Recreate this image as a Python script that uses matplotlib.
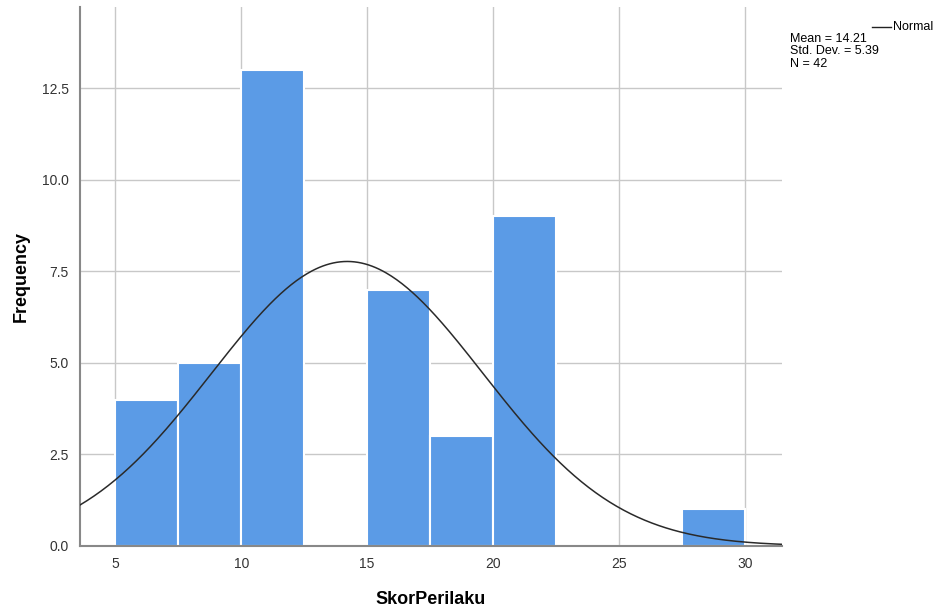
import numpy as np
import matplotlib.pyplot as plt

plt.rcParams['font.family'] = ['Liberation Sans', 'DejaVu Sans']

# histogram data (SPSS style, bin width 2.5)
bin_edges = [5, 7.5, 10, 12.5, 15, 17.5, 20, 22.5, 25, 27.5, 30]
counts = [4, 5, 13, 0, 7, 3, 9, 0, 0, 1]
mean_val = 14.21
std_val = 5.39
n_val = 42

x_ticks = [5, 10, 15, 20, 25, 30]
y_ticks = [0.0, 2.5, 5.0, 7.5, 10.0, 12.5]

fig = plt.figure(figsize=(9.4, 6.11), dpi=100)
ax = fig.add_axes([0.0851, 0.1064, 0.7468, 0.882])

# bars
lefts = bin_edges[:-1]
widths = np.diff(bin_edges)
ax.bar(lefts, counts, width=widths, align='edge', color='#5b9be6',
       edgecolor='white', linewidth=1.5, zorder=2)

# normal curve
xmin, xmax = 3.6, 31.47
xs = np.linspace(xmin, xmax, 400)
bw = 2.5
ys = n_val * bw / (std_val * np.sqrt(2 * np.pi)) * np.exp(-0.5 * ((xs - mean_val) / std_val) ** 2)
ax.plot(xs, ys, color='#2a2a2a', linewidth=1.1, zorder=3)

ax.set_xlim(xmin, xmax)
ax.set_ylim(0, 14.72)
ax.set_xticks(x_ticks)
ax.set_yticks(y_ticks)
ax.set_yticklabels([f'{v:.1f}' for v in y_ticks])
ax.grid(True, color='#c8c8c8', linewidth=1.0, zorder=0)
ax.set_axisbelow(True)
ax.tick_params(length=0, labelsize=10, colors='#333333', pad=8)

for s in ['top', 'right']:
    ax.spines[s].set_visible(False)
for s in ['left', 'bottom']:
    ax.spines[s].set_color('#888888')
    ax.spines[s].set_linewidth(1.5)

ax.set_xlabel('SkorPerilaku', fontsize=13, fontweight='bold', labelpad=14)
ax.set_ylabel('Frequency', fontsize=13, fontweight='bold', labelpad=9)

# legend-like annotation
fig.lines.append(plt.Line2D([872 / 940, 891 / 940], [1 - 27 / 611, 1 - 27 / 611],
                            transform=fig.transFigure, color='#222222', linewidth=1.0))
fig.text(893 / 940, 1 - 27 / 611, 'Normal', fontsize=9, va='center', ha='left')
fig.text(790 / 940, 1 - 33 / 611,
         f'Mean = {mean_val:.2f}\nStd. Dev. = {std_val:.2f}\nN = {n_val}',
         fontsize=9, va='top', ha='left', linespacing=1.05)

fig.savefig('out.png', dpi=100)
